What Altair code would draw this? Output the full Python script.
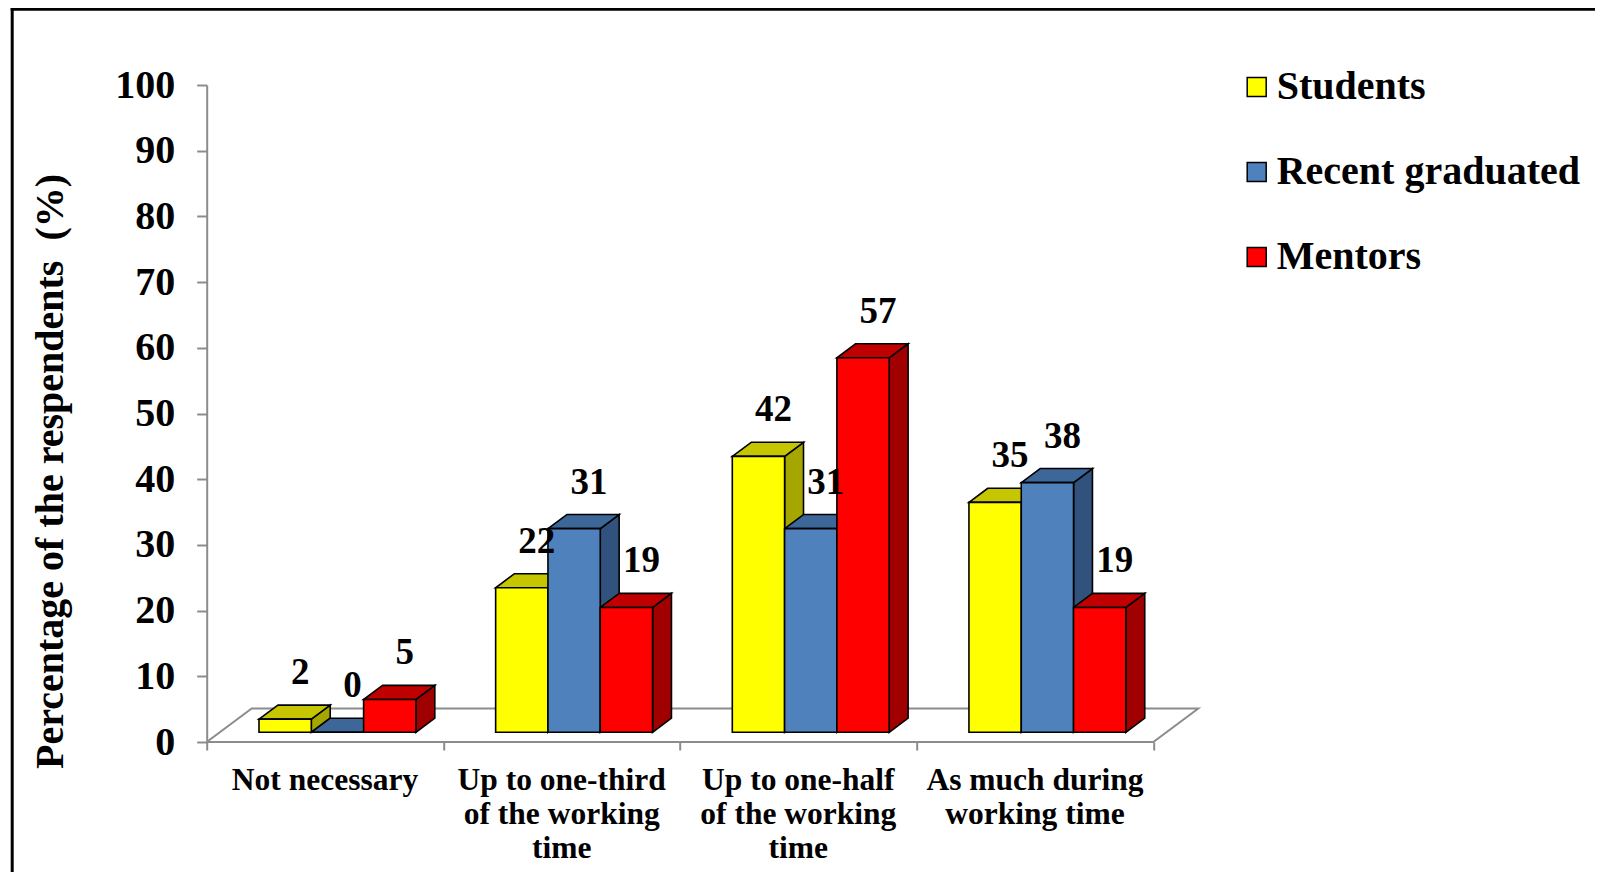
import altair as alt
import pandas as pd

# ---------------- data ----------------
categories = ["Not necessary", "Up to one-third of the working time",
              "Up to one-half of the working time", "As much during working time"]
category_labels = ["Not necessary", "Up to one-third\nof the working\ntime",
                   "Up to one-half\nof the working\ntime", "As much during\nworking time"]
series = ["Students", "Recent graduated", "Mentors"]
students = [2, 22, 42, 35]
recent_graduated = [0, 31, 31, 38]
mentors = [5, 19, 57, 19]
y_ticks = [0, 10, 20, 30, 40, 50, 60, 70, 80, 90, 100]

# ---------------- style ----------------
front_colors = ["#FFFF00", "#4F81BD", "#FF0000"]
top_colors = ["#C6C600", "#3D6699", "#C00000"]
side_colors = ["#A6A600", "#30527D", "#A00000"]
AXIS_GRAY = "#8C8C8C"
FONT = "Liberation Serif"

# pseudo-3D geometry expressed in data units
PX_X = 236.65          # pixels per category unit
PX_Y = 6.57            # pixels per percent
FLOOR_DX = 45 / PX_X
FLOOR_DY = 33.5 / PX_Y
BASE_DX = 0.29 * FLOOR_DX
BASE_DY = 0.29 * FLOOR_DY
DDX = 0.42 * FLOOR_DX
DDY = 0.42 * FLOOR_DY
BAR_W = 52.3 / PX_X
LEFT_GAP = 52.3 / PX_X

values = [students, recent_graduated, mentors]

front_rows, side_rows, top_rows, label_rows = [], [], [], []
for i, cat in enumerate(categories):
    for j, s in enumerate(series):
        v = values[j][i]
        left = i + LEFT_GAP + j * BAR_W
        right = left + BAR_W
        base = BASE_DY
        top = BASE_DY + v
        bid = f"{i}-{j}"
        front_rows.append(dict(bar=bid, series=s, x=left, x2=right, y=base, y2=top))
        for k in (0, 1):
            side_rows.append(dict(bar=bid, col=side_colors[j], x=right + k * DDX,
                                  y=base + k * DDY, y2=top + k * DDY))
            top_rows.append(dict(bar=bid, col=top_colors[j], y=top + k * DDY,
                                 x=left + k * DDX, x2=right + k * DDX))
        label_rows.append(dict(x=left + BAR_W / 2, y=top, text=str(v)))

floor_rows = [dict(o=0, x=0, y=0), dict(o=1, x=FLOOR_DX, y=FLOOR_DY),
              dict(o=2, x=4 + FLOOR_DX, y=FLOOR_DY), dict(o=3, x=4, y=0),
              dict(o=4, x=0, y=0)]
cat_rows = [dict(x=i + 0.5, text=t) for i, t in enumerate(category_labels)]

XS = alt.Scale(domain=[0, 4], nice=False, zero=False)
YS = alt.Scale(domain=[0, 100], nice=False, zero=False)

X_AXIS = alt.Axis(values=[0, 1, 2, 3, 4], labels=False, domain=False, grid=False,
                  ticks=True, tickSize=8, tickColor=AXIS_GRAY, tickWidth=2, title=None)
Y_AXIS = alt.Axis(values=y_ticks, grid=False, domain=True, domainColor=AXIS_GRAY,
                  domainWidth=2, ticks=True, tickSize=10, tickColor=AXIS_GRAY,
                  tickWidth=2, labelFont=FONT, labelFontSize=40, labelFontWeight="bold",
                  labelColor="black", labelPadding=22,
                  title="Percentage of the respendents \u00a0(%)",
                  titleFont=FONT, titleFontSize=40, titleFontWeight="bold",
                  titleColor="black", titleAngle=270, titleX=-144, titleY=386,
                  titleAlign="center", titleBaseline="alphabetic")


def X(field):
    return alt.X(field, type="quantitative", scale=XS, axis=X_AXIS)


def Y(field):
    return alt.Y(field, type="quantitative", scale=YS, axis=Y_AXIS)


one = pd.DataFrame({"a": [0]})

frame_left = alt.Chart(one).mark_rule(color="black", strokeWidth=3).encode(
    x=alt.value(-194.5), y=alt.value(-77), y2=alt.value(820))
frame_top = alt.Chart(one).mark_rule(color="black", strokeWidth=3).encode(
    y=alt.value(-75.8), x=alt.value(-196), x2=alt.value(1420))

floor = alt.Chart(pd.DataFrame(floor_rows)).mark_line(
    color=AXIS_GRAY, strokeWidth=2).encode(x=X("x"), y=Y("y"), order="o:Q")

sides = alt.Chart(pd.DataFrame(side_rows)).mark_area(
    stroke="black", strokeWidth=1.6, opacity=1).encode(
    x=X("x"), y=Y("y"), y2="y2", detail="bar:N",
    color=alt.Color("col:N", scale=None))

tops = alt.Chart(pd.DataFrame(top_rows)).mark_area(
    orient="horizontal", stroke="black", strokeWidth=1.6, opacity=1).encode(
    y=Y("y"), x=X("x"), x2="x2", detail="bar:N",
    color=alt.Color("col:N", scale=None))

fronts = alt.Chart(pd.DataFrame(front_rows)).mark_rect(
    stroke="black", strokeWidth=1.6).encode(
    x=X("x"), x2="x2", y=Y("y"), y2="y2",
    fill=alt.Fill("series:N", scale=alt.Scale(domain=series, range=front_colors),
                  sort=series,
                  legend=alt.Legend(orient="none", legendX=1030, legendY=-18,
                                    title=None, direction="vertical",
                                    symbolType="square", symbolSize=361,
                                    symbolStrokeColor="black", symbolStrokeWidth=1.5,
                                    symbolOpacity=1, labelLimit=0,
                                    labelFont=FONT, labelFontSize=40,
                                    labelFontWeight="bold", labelColor="black",
                                    rowPadding=45, labelOffset=0, padding=0)))

labels = alt.Chart(pd.DataFrame(label_rows)).mark_text(
    font=FONT, fontSize=37, fontWeight="bold", color="black",
    baseline="middle", align="center", dx=15, dy=-46).encode(
    x=X("x"), y=Y("y"), text="text:N")

cat_text = alt.Chart(pd.DataFrame(cat_rows)).mark_text(
    font=FONT, fontSize=31.5, fontWeight="bold", color="black",
    baseline="top", align="center", lineBreak="\n", lineHeight=34).encode(
    x=X("x"), y=alt.value(680), text="text:N")

chart = alt.layer(frame_left, frame_top, floor, sides, tops, fronts, labels, cat_text).properties(
    width=946.6, height=657,
    padding={"left": 198.7, "top": 77, "right": 441.7, "bottom": 130},
    autosize=alt.AutoSizeParams(type="none"),
    background="white",
).configure_view(stroke=None)

chart.save("out.html", embed_options={"renderer": "svg", "actions": False})
